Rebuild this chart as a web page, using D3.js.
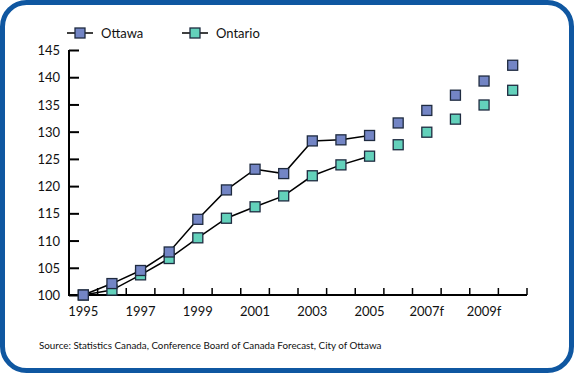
<!DOCTYPE html>
<meta charset="utf-8">
<title>Ottawa vs Ontario</title>
<style>
  body { margin: 0; background: #fff; }
  text { font-family: Lato, "Open Sans", sans-serif; fill: #111; }
</style>
<body>
<script src="https://d3js.org/d3.v7.min.js"></script>
<div id="chart"></div>
<script>
// years on the x axis (one band each), only odd ones get a label
var years = ["1995","1996","1997","1998","1999","2000","2001","2002","2003","2004","2005","2006","2007f","2008f","2009f","2010f"];
var ottawa  = [100, 102.1, 104.5, 107.9, 113.9, 119.3, 123.1, 122.3, 128.3, 128.5, 129.3, 131.6, 133.9, 136.7, 139.3, 142.2];
var ontario = [100, 100.9, 103.7, 106.7, 110.5, 114.1, 116.2, 118.2, 121.9, 123.9, 125.5, 127.6, 129.9, 132.3, 134.9, 137.6];
var yTicks = [100, 105, 110, 115, 120, 125, 130, 135, 140, 145];
var lastActual = "2005"; // lines stop here, forecasts are markers only

var W = 574, H = 373;
var svg = d3.select("#chart").append("svg")
    .attr("width", W)
    .attr("height", H);

// rounded blue frame
svg.append("rect")
    .attr("x", 2.5).attr("y", 2.5)
    .attr("width", W - 5).attr("height", H - 5)
    .attr("rx", 24).attr("ry", 24)
    .attr("fill", "#fff")
    .attr("stroke", "#0f57a1")
    .attr("stroke-width", 5);

var x = d3.scaleBand().domain(years).range([69, 527]);
var y = d3.scaleLinear().domain([100, 145]).range([295, 50]);

// y axis
var yAxis = svg.append("g").attr("transform", "translate(69,0)")
  .call(d3.axisRight(y).tickValues(yTicks).tickSize(10).tickFormat(d3.format("d")));
yAxis.select(".domain").attr("stroke", "#000").attr("stroke-width", 2).attr("d", "M0," + y(145) + "V" + y(100));
yAxis.selectAll(".tick line").attr("stroke", "#000").attr("stroke-width", 2);
yAxis.selectAll(".tick text")
    .attr("x", -9).attr("dy", "0.35em")
    .attr("text-anchor", "end")
    .style("font-size", "13px");

// x axis: ticks at band boundaries, labels centered in bands
var xg = svg.append("g");
xg.append("line")
    .attr("x1", 68).attr("x2", x.range()[1])
    .attr("y1", y(100)).attr("y2", y(100))
    .attr("stroke", "#000").attr("stroke-width", 2);
xg.selectAll("line.tk").data(years)
  .enter().append("line")
    .attr("class", "tk")
    .attr("x1", function(d) { return x(d) + x.bandwidth(); })
    .attr("x2", function(d) { return x(d) + x.bandwidth(); })
    .attr("y1", y(100) - 7).attr("y2", y(100))
    .attr("stroke", "#000").attr("stroke-width", 1.5);
xg.selectAll("text").data(years.filter(function(d, i) { return i % 2 == 0; }))
  .enter().append("text")
    .attr("x", function(d) { return x(d) + x.bandwidth() / 2; })
    .attr("y", 316)
    .attr("text-anchor", "middle")
    .style("font-size", "13px")
    .text(function(d) { return d; });

var series = [
  {name: "Ottawa", values: ottawa, fill: "#7385c5"},
  {name: "Ontario", values: ontario, fill: "#63d1bb"}
];

var cut = years.indexOf(lastActual) + 1;
var line = d3.line()
    .x(function(d) { return x(d.year) + x.bandwidth() / 2; })
    .y(function(d) { return y(d.v); });

// draw Ontario first so Ottawa sits on top
series.slice().reverse().forEach(function(s) {
  var pts = years.map(function(yr, i) { return {year: yr, v: s.values[i]}; });
  svg.append("path")
      .datum(pts.slice(0, cut))
      .attr("d", line)
      .attr("fill", "none")
      .attr("stroke", "#000")
      .attr("stroke-width", 1.5);
  svg.selectAll(null).data(pts)
    .enter().append("rect")
      .attr("x", function(d) { return x(d.year) + x.bandwidth() / 2 - 5; })
      .attr("y", function(d) { return y(d.v) - 5; })
      .attr("width", 10).attr("height", 10)
      .attr("fill", s.fill)
      .attr("stroke", "#1f2b40")
      .attr("stroke-width", 1.3);
});

// legend
var leg = svg.append("g");
var legX = [67, 182];
series.forEach(function(s, i) {
  var g = leg.append("g").attr("transform", "translate(" + legX[i] + ",33)");
  g.append("line").attr("x1", 0).attr("x2", 26).attr("y1", 0).attr("y2", 0)
    .attr("stroke", "#000").attr("stroke-width", 1.5);
  g.append("rect").attr("x", 8).attr("y", -5).attr("width", 10).attr("height", 10)
    .attr("fill", s.fill).attr("stroke", "#1f2b40").attr("stroke-width", 1.3);
  g.append("text").attr("x", 34).attr("y", 0).attr("dy", "0.35em")
    .style("font-size", "13px").text(s.name);
});

// source note
svg.append("text")
    .attr("x", 39).attr("y", 349)
    .style("font-size", "9.8px")
    .text("Source: Statistics Canada, Conference Board of Canada Forecast, City of Ottawa");
</script>
</body>
